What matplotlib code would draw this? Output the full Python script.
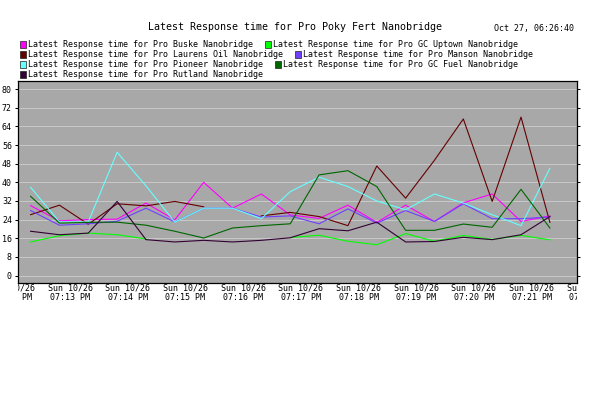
import matplotlib
matplotlib.use("Agg")
import matplotlib.pyplot as plt
from matplotlib.patches import Rectangle
from matplotlib.transforms import Bbox, TransformedBbox, blended_transform_factory
import numpy as np

nan = np.nan

# ---- data ----
times = ["07:12:19", "07:12:49", "07:13:19", "07:13:49", "07:14:19", "07:14:49",
         "07:15:19", "07:15:49", "07:16:19", "07:16:49", "07:17:19", "07:17:49",
         "07:18:19", "07:18:49", "07:19:19", "07:19:49", "07:20:19", "07:20:49",
         "07:21:19"]
buske = [30.0, 23.5, 24.0, 24.2, 31.1, 23.9, 40.0, 28.9, 35.0, 26.0, 24.5, 30.2,
         22.8, 30.2, 23.2, 31.2, 35.0, 23.2, 25.6]
gc_uptown = [14.4, 17.1, 18.2, 17.5, 15.7, nan, nan, nan, nan, 16.3, 17.3, 14.7,
             13.2, 18.0, 14.7, 17.2, 15.5, 17.2, 15.3]
laurens = [26.1, 30.2, 22.0, 30.8, 29.9, 31.8, 29.5, nan, 25.6, 27.1, 25.3, 21.4,
           47.0, 33.2, 49.5, 67.2, 31.8, 68.0, 22.8]
manson = [27.9, 21.6, 22.2, 23.3, 28.9, 23.0, 28.9, 28.9, 25.1, 25.6, 22.2, 28.6,
          22.5, 27.9, 23.2, 30.8, 24.4, 24.4, 25.1]
pioneer = [37.9, 23.0, 23.0, 52.9, 38.5, 22.9, 28.9, 28.9, 24.4, 36.0, 42.2, 38.2,
           32.0, 28.2, 35.0, 31.1, 26.1, 21.4, 46.0]
gc_fuel = [34.0, 22.5, 22.8, 22.9, 21.6, 19.0, 16.1, 20.4, 21.4, 22.2, 43.2, 45.0,
           38.2, 19.4, 19.4, 22.1, 20.7, 37.0, 20.4]
rutland = [19.0, 17.5, 18.2, 31.8, 15.4, 14.4, 15.1, 14.4, 15.1, 16.2, 20.1, 19.2,
           22.9, 14.4, 14.6, 16.4, 15.4, 17.5, 25.3]

series_names = ["Latest Response time for Pro Buske Nanobridge",
                "Latest Response time for Pro GC Uptown Nanobridge",
                "Latest Response time for Pro Laurens Oil Nanobridge",
                "Latest Response time for Pro Manson Nanobridge",
                "Latest Response time for Pro Pioneer Nanobridge",
                "Latest Response time for Pro GC Fuel Nanobridge",
                "Latest Response time for Pro Rutland Nanobridge"]
series_values = [buske, gc_uptown, laurens, manson, pioneer, gc_fuel, rutland]
colors = ["#ff00ff", "#00ff00", "#660000", "#7040ff", "#66ffff", "#006600", "#330033"]

tick_minutes = ["07:12", "07:13", "07:14", "07:15", "07:16", "07:17", "07:18",
                "07:19", "07:20", "07:21", "07:22"]
tick_date = "Sun 10/26"
yticks = [0, 8, 16, 24, 32, 40, 48, 56, 64, 72, 80]
title = "Latest Response time for Pro Poky Fert Nanobridge"
stamp = "Oct 27, 06:26:40"

# ---- helpers ----
def to_min(s):
    parts = [int(p) for p in s.split(":")]
    secs = parts[0] * 3600 + parts[1] * 60 + (parts[2] if len(parts) > 2 else 0)
    return (secs - (7 * 3600 + 12 * 60)) / 60.0

x = np.array([to_min(t) for t in times])

W, H = 616, 393
fig = plt.figure(figsize=(W / 100, H / 100), dpi=100)
fig.patch.set_facecolor("white")

def fx(px):
    return px / W

def fy(py):
    return 1 - py / H

L, R, T, B = 17.5, 576.5, 81.0, 282.5
ax = fig.add_axes([fx(L), fy(B), (R - L) / W, (B - T) / H])
ax.set_facecolor("#a8a8a8")

mono = "DejaVu Sans Mono"

for vals, c in zip(series_values, colors):
    ax.plot(x, vals, color=c, lw=0.8, antialiased=True)

ax.set_xlim(0.09, 9.778)
ax.set_ylim(-3.0, 83.5)
ax.set_yticks(yticks)
ax.set_yticklabels([str(v) for v in yticks], fontfamily=mono, fontsize=6)
ax.set_xticks([])
ax.yaxis.grid(True, color="#cacaca", lw=0.7)
ax.set_axisbelow(True)
ax.tick_params(axis="y", direction="out", length=2.5, width=0.75, left=True,
               right=True, labelleft=True, labelright=False, pad=1.5,
               colors="black")
for sp in ax.spines.values():
    sp.set_color("black")
    sp.set_linewidth(0.9)

# x tick labels, clipped to the plot's horizontal extent
clip = TransformedBbox(Bbox([[fx(L), 0], [fx(R), 1]]), fig.transFigure)
trans = blended_transform_factory(ax.transData, fig.transFigure)
for tm in tick_minutes:
    m = to_min(tm)
    hh, mm = tm.split(":")
    for line, py in ((tick_date, 288.0), (f"{hh}:{mm} PM", 298.0)):
        t = fig.text(m, fy(py), line, transform=trans, ha="center", va="center",
                     fontfamily=mono, fontsize=6)
        t.set_clip_box(clip)
        t.set_clip_on(True)

# title and time stamp
fig.text(fx(295), fy(27), title, ha="center", va="center", fontfamily=mono,
         fontsize=7.2)
fig.text(fx(574), fy(29), stamp, ha="right", va="center", fontfamily=mono,
         fontsize=6)

# legend
rows = [(0, 1), (2, 3), (4, 5), (6,)]
row_y = [44.5, 54.5, 64.5, 74.5]
char_w = 5.0
for r, idxs in enumerate(rows):
    xpos = 20.0
    for idx in idxs:
        fig.patches.append(Rectangle((fx(xpos), fy(row_y[r] + 3)), 6 / W, 6 / H,
                                     transform=fig.transFigure,
                                     facecolor=colors[idx], edgecolor="#202020",
                                     lw=0.5))
        fig.text(fx(xpos + 8), fy(row_y[r]), series_names[idx], ha="left",
                 va="center", fontfamily=mono, fontsize=6)
        xpos = xpos + 8 + len(series_names[idx]) * char_w + 12

fig.savefig("out.png", dpi=100, facecolor="white")
